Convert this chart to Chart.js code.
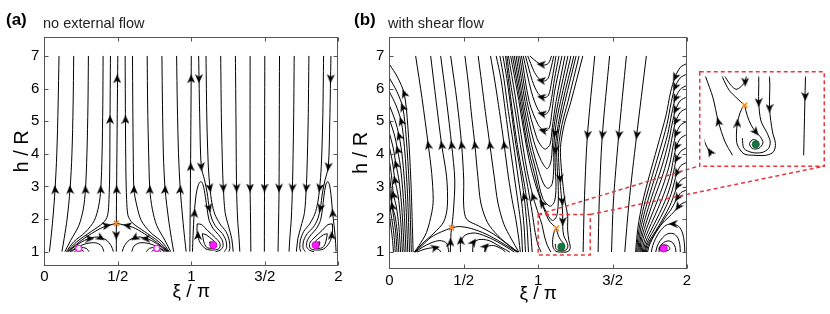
<!DOCTYPE html>
<html>
<head>
<meta charset="utf-8">
<script src="https://cdn.jsdelivr.net/npm/chart.js@4.4.1/dist/chart.umd.min.js"></script>
<style>
  html, body { margin: 0; padding: 0; background: #fff; }
  #wrap { position: relative; width: 830px; height: 314px; overflow: hidden; font-family: "Liberation Sans", Arial, sans-serif; }
  canvas { position: absolute; }
  .lbl { position: absolute; white-space: nowrap; line-height: 1; color: #000; }
  .tag { font-weight: bold; font-size: 17px; }
  .sub { font-size: 14.5px; color: #222; }
</style>
</head>
<body>
<div id="wrap">
  <canvas id="chartA" width="345" height="314" style="left:0;top:0"></canvas>
  <canvas id="chartB" width="485" height="314" style="left:345px;top:0"></canvas>
  <canvas id="chartInset" width="126" height="96" style="left:699px;top:71px"></canvas>
  <div class="lbl tag" style="left:6px;top:11px">(a)</div>
  <div class="lbl sub" style="left:43px;top:16px">no external flow</div>
  <div class="lbl tag" style="left:354px;top:11px">(b)</div>
  <div class="lbl sub" style="left:388px;top:16px">with shear flow</div>
</div>
<script>
// axes
const xTickValues = [0, 0.5, 1, 1.5, 2];
const xTickLabels = ["0", "1/2", "1", "3/2", "2"];
const yTickValues = [1, 2, 3, 4, 5, 6, 7];

// ---- panel (a): no external flow, streamlines as [xi/pi, h/R] ----
const aUpLeft = [
  [[0.035, 1.0], [0.045, 1.4], [0.058, 2.0], [0.073, 2.9], [0.085, 4.0], [0.094, 5.5], [0.1, 7.0]],
  [[0.12, 1.0], [0.135, 1.4], [0.155, 2.0], [0.175, 2.9], [0.188, 4.0], [0.196, 5.5], [0.2, 7.0]],
  [[0.14, 1.0], [0.18, 1.35], [0.235, 1.8], [0.265, 2.3], [0.28, 2.9], [0.29, 4.0], [0.297, 5.5], [0.3, 7.0]],
  [[0.15, 1.0], [0.2, 1.3], [0.28, 1.6], [0.34, 1.95], [0.37, 2.4], [0.384, 2.9], [0.393, 4.0], [0.398, 5.5], [0.4, 7.0]],
  [[0.155, 1.0], [0.22, 1.3], [0.32, 1.62], [0.4, 1.88], [0.43, 2.1], [0.44, 2.6], [0.445, 3.5], [0.447, 5.0], [0.45, 7.0]],
  [[0.16, 1.0], [0.23, 1.27], [0.32, 1.55], [0.4, 1.75], [0.49, 1.87]],
  [[0.49, 1.0], [0.49, 1.87], [0.492, 3.0], [0.496, 5.0], [0.5, 7.0]],
];
const aUpRight = [
  [[0.965, 1.0], [0.955, 1.4], [0.942, 2.0], [0.925, 2.9], [0.913, 4.0], [0.905, 5.5], [0.9, 7.0]],
  [[0.88, 1.0], [0.865, 1.4], [0.845, 2.0], [0.822, 2.9], [0.81, 4.0], [0.804, 5.5], [0.8, 7.0]],
  [[0.86, 1.0], [0.82, 1.35], [0.765, 1.8], [0.735, 2.3], [0.718, 2.9], [0.71, 4.0], [0.703, 5.5], [0.7, 7.0]],
  [[0.85, 1.0], [0.8, 1.3], [0.72, 1.6], [0.66, 1.95], [0.63, 2.4], [0.61, 2.9], [0.605, 4.0], [0.602, 5.5], [0.6, 7.0]],
  [[0.845, 1.0], [0.78, 1.3], [0.68, 1.62], [0.6, 1.88], [0.57, 2.1], [0.56, 2.6], [0.555, 3.5], [0.552, 5.0], [0.55, 7.0]],
  [[0.84, 1.0], [0.77, 1.27], [0.68, 1.55], [0.6, 1.75], [0.49, 1.87]],
];
const aCells = [
  [[0.165, 1.0], [0.22, 1.2], [0.29, 1.38], [0.36, 1.45], [0.42, 1.36], [0.455, 1.18], [0.47, 1.0]],
  [[0.175, 1.0], [0.225, 1.14], [0.29, 1.25], [0.35, 1.27], [0.39, 1.17], [0.405, 1.0]],
  [[0.185, 1.0], [0.21, 1.08], [0.245, 1.13], [0.285, 1.1], [0.305, 1.0]],
  [[0.205, 1.0], [0.22, 1.04], [0.245, 1.06], [0.265, 1.02], [0.27, 1.0]],
  [[0.835, 1.0], [0.78, 1.2], [0.71, 1.38], [0.64, 1.45], [0.58, 1.36], [0.545, 1.18], [0.53, 1.0]],
  [[0.825, 1.0], [0.775, 1.14], [0.71, 1.25], [0.65, 1.27], [0.61, 1.17], [0.595, 1.0]],
  [[0.815, 1.0], [0.79, 1.08], [0.755, 1.13], [0.715, 1.1], [0.695, 1.0]],
  [[0.795, 1.0], [0.78, 1.04], [0.755, 1.06], [0.735, 1.02], [0.73, 1.0]],
];
const aFall = [
  [[0.99, 1.0], [0.992, 2.0], [0.995, 3.6], [0.998, 5.5], [1.0, 7.0]],
  [[1.05, 7.0], [1.058, 5.0], [1.068, 3.6], [1.09, 3.2], [1.108, 2.8], [1.122, 2.33], [1.14, 2.0], [1.17, 1.75], [1.21, 1.56], [1.235, 1.35], [1.24, 1.12], [1.225, 1.0]],
  [[1.1, 7.0], [1.106, 5.0], [1.116, 3.6], [1.127, 2.95], [1.14, 2.5], [1.16, 2.15], [1.195, 1.85], [1.235, 1.62], [1.258, 1.35], [1.262, 1.1], [1.255, 1.0]],
  [[1.2, 7.0], [1.205, 5.0], [1.213, 3.5], [1.218, 2.95], [1.23, 2.2], [1.255, 1.75], [1.275, 1.4], [1.285, 1.0]],
  [[1.3, 7.0], [1.304, 5.0], [1.308, 2.95], [1.315, 2.0], [1.325, 1.4], [1.33, 1.0]],
  [[1.4, 7.0], [1.4, 2.95], [1.403, 2.0], [1.405, 1.0]],
  [[1.5, 7.0], [1.498, 2.95], [1.497, 1.0]],
  [[1.6, 7.0], [1.597, 2.95], [1.594, 2.0], [1.59, 1.0]],
  [[1.7, 7.0], [1.696, 5.0], [1.688, 2.95], [1.68, 2.0], [1.67, 1.4], [1.665, 1.0]],
  [[1.8, 7.0], [1.795, 5.0], [1.787, 3.5], [1.782, 2.95], [1.77, 2.2], [1.745, 1.75], [1.725, 1.4], [1.715, 1.0]],
  [[1.9, 7.0], [1.894, 5.0], [1.884, 3.6], [1.873, 2.95], [1.86, 2.5], [1.84, 2.15], [1.805, 1.85], [1.765, 1.62], [1.742, 1.35], [1.738, 1.1], [1.745, 1.0]],
  [[1.95, 7.0], [1.942, 5.0], [1.932, 3.6], [1.91, 3.2], [1.892, 2.8], [1.878, 2.33], [1.86, 2.0], [1.83, 1.75], [1.79, 1.56], [1.765, 1.35], [1.76, 1.12], [1.775, 1.0]],
];
const aVortex = [
  [[1.008, 1.0], [1.012, 1.5], [1.02, 2.18], [1.033, 2.75], [1.048, 3.05], [1.065, 3.15], [1.08, 3.05], [1.095, 2.7], [1.108, 2.3], [1.122, 1.95], [1.15, 1.7], [1.185, 1.52], [1.212, 1.33], [1.215, 1.15], [1.195, 1.04], [1.165, 1.0]],
  [[1.04, 1.85], [1.07, 1.83], [1.11, 1.65], [1.165, 1.42], [1.195, 1.25], [1.19, 1.1], [1.155, 1.05], [1.1, 1.08], [1.06, 1.28], [1.04, 1.55], [1.04, 1.85]],
  [[1.075, 1.55], [1.1, 1.52], [1.14, 1.38], [1.17, 1.24], [1.165, 1.13], [1.14, 1.1], [1.105, 1.13], [1.085, 1.3], [1.075, 1.55]],
  [[1.125, 1.3], [1.148, 1.28], [1.16, 1.2], [1.15, 1.15], [1.132, 1.17], [1.125, 1.3]],
  [[1.985, 1.0], [1.978, 1.5], [1.962, 2.18], [1.95, 2.75], [1.94, 3.05], [1.928, 3.15], [1.915, 3.05], [1.902, 2.7], [1.892, 2.3], [1.878, 1.95], [1.85, 1.7], [1.815, 1.52], [1.788, 1.33], [1.785, 1.15], [1.805, 1.04], [1.835, 1.0]],
  [[1.96, 1.85], [1.93, 1.83], [1.89, 1.65], [1.835, 1.42], [1.805, 1.25], [1.81, 1.1], [1.845, 1.05], [1.9, 1.08], [1.94, 1.28], [1.96, 1.55], [1.96, 1.85]],
  [[1.925, 1.55], [1.9, 1.52], [1.86, 1.38], [1.83, 1.24], [1.835, 1.13], [1.86, 1.1], [1.895, 1.13], [1.915, 1.3], [1.925, 1.55]],
  [[1.875, 1.3], [1.852, 1.28], [1.84, 1.2], [1.85, 1.15], [1.868, 1.17], [1.875, 1.3]],
];
// arrows: [xi, h, rotation in degrees, 0 = up]
const aArrows = [
  [0.073, 2.9, -4], [0.175, 2.9, -3], [0.28, 2.9, -2], [0.384, 2.9, -1], [0.492, 2.9, 0],
  [0.61, 2.9, 1], [0.718, 2.9, 2], [0.822, 2.9, 3], [0.925, 2.9, 4],
  [0.447, 5.05, 0], [0.552, 5.05, 0], [0.496, 6.3, 0], [0.49, 1.5, 180],
  [0.425, 1.8, 80], [0.565, 1.8, 280],
  [0.31, 1.4, 90], [0.385, 1.42, 120], [0.69, 1.4, 270], [0.615, 1.42, 240],
  [0.996, 3.6, 0], [0.999, 6.3, 0], [1.052, 6.3, 180], [1.068, 3.6, 175],
  [1.022, 2.18, 5], [1.045, 1.5, 0], [1.122, 2.33, 165],
  [1.127, 2.95, 170], [1.218, 2.95, 178], [1.308, 2.95, 179], [1.4, 2.95, 180], [1.498, 2.95, 180],
  [1.597, 2.95, 181], [1.688, 2.95, 183], [1.782, 2.95, 185], [1.873, 2.95, 190],
  [1.948, 6.3, 182], [1.932, 3.6, 186], [1.878, 2.33, 195], [1.962, 2.18, -5], [1.955, 1.5, 0],
];
const aSaddle = [[0.49, 1.87]];
const aOpen = [[0.234, 1.1], [0.765, 1.1]];
const aFilled = [[1.15, 1.2], [1.846, 1.2]];

// ---- panel (b): with shear flow ----
const bLeft = [
  [[0.16, 1], [0.145, 3.18], [0.124, 4.88], [0.1, 5.85], [0.055, 6.35], [0, 6.75]],
  [[0.148, 1], [0.134, 3.0], [0.113, 4.54], [0.09, 5.43], [0.05, 5.92], [0, 6.33]],
  [[0.136, 1], [0.122, 2.8], [0.102, 4.2], [0.08, 5.0], [0.044, 5.5], [0, 5.91]],
  [[0.124, 1], [0.11, 2.6], [0.089, 3.84], [0.066, 4.55], [0.036, 5.07], [0, 5.49]],
  [[0.112, 1], [0.098, 2.4], [0.078, 3.5], [0.056, 4.12], [0.031, 4.64], [0, 5.07]],
  [[0.1, 1], [0.086, 2.21], [0.067, 3.14], [0.045, 3.68], [0.025, 4.21], [0, 4.65]],
  [[0.088, 1], [0.076, 1.99], [0.058, 2.76], [0.038, 3.2], [0.021, 3.76], [0, 4.23]],
  [[0.076, 1], [0.064, 1.79], [0.047, 2.4], [0.028, 2.75], [0.015, 3.33], [0, 3.81]],
  [[0.064, 1], [0.053, 1.63], [0.038, 2.12], [0.02, 2.4], [0.011, 2.94], [0, 3.39]],
  [[0.052, 1], [0.044, 1.55], [0.03, 2.05], [0.015, 2.5], [0, 2.97]],
  [[0.04, 1], [0.033, 1.45], [0.022, 1.85], [0.01, 2.2], [0, 2.55]],
  [[0.028, 1], [0.022, 1.35], [0.013, 1.7], [0, 2.13]],
];
const bColumn = [
  [[0.168, 1.0], [0.2, 1.2], [0.25, 1.6], [0.285, 2.2], [0.295, 2.6], [0.285, 3.4], [0.262, 4.27], [0.22, 5.7], [0.177, 7.0]],
  [[0.172, 1.0], [0.22, 1.25], [0.3, 1.58], [0.365, 1.92], [0.39, 2.4], [0.385, 3.3], [0.352, 4.27], [0.315, 5.6], [0.278, 7.0]],
  [[0.419, 1.74], [0.43, 2.2], [0.44, 3.2], [0.419, 4.27], [0.385, 5.6], [0.345, 7.0]],
  [[0.862, 1.0], [0.79, 1.25], [0.7, 1.55], [0.6, 1.8], [0.52, 2.0], [0.5, 2.4], [0.5, 3.2], [0.486, 4.27], [0.455, 5.6], [0.412, 7.0]],
  [[0.17, 1.0], [0.22, 1.2], [0.28, 1.45], [0.35, 1.62], [0.419, 1.74]],
  [[0.175, 1.0], [0.22, 1.14], [0.28, 1.28], [0.34, 1.35], [0.385, 1.27], [0.4, 1.0]],
  [[0.185, 1.0], [0.24, 1.09], [0.3, 1.13], [0.335, 1.07], [0.345, 1.0]],
  [[0.41, 1.0], [0.412, 1.3], [0.415, 1.6], [0.419, 1.74]],
  [[0.419, 1.74], [0.47, 1.78], [0.55, 1.72], [0.65, 1.55], [0.75, 1.3], [0.858, 1.0]],
  [[0.478, 1.0], [0.48, 1.3], [0.51, 1.52], [0.58, 1.58], [0.68, 1.42], [0.77, 1.2], [0.84, 1.0]],
  [[0.56, 1.0], [0.565, 1.25], [0.6, 1.38], [0.67, 1.35], [0.75, 1.15], [0.81, 1.0]],
  [[0.64, 1.0], [0.65, 1.15], [0.7, 1.2], [0.76, 1.08], [0.78, 1.0]],
];
const bRise = [
  [[0.865, 1.0], [0.8, 1.22], [0.73, 1.5], [0.66, 1.9], [0.615, 2.5], [0.595, 3.3], [0.575, 4.27], [0.55, 5.3], [0.53, 6.2], [0.508, 7.0]],
  [[0.87, 1.0], [0.82, 1.4], [0.77, 1.85], [0.73, 2.5], [0.705, 3.3], [0.676, 4.27], [0.645, 5.3], [0.62, 6.2], [0.597, 7.0]],
  [[0.88, 1.0], [0.87, 1.4], [0.85, 2.0], [0.825, 2.6], [0.8, 3.3], [0.772, 4.27], [0.74, 5.3], [0.71, 6.2], [0.68, 7.0]],
  [[0.895, 1.0], [0.885, 1.8], [0.865, 2.5], [0.84, 3.3], [0.81, 4.27], [0.78, 5.3], [0.75, 6.3], [0.718, 7.0]],
  [[0.915, 1.0], [0.905, 1.8], [0.89, 2.5], [0.865, 3.3], [0.835, 4.27], [0.8, 5.3], [0.77, 6.3], [0.743, 7.0]],
  [[0.935, 1.0], [0.925, 1.8], [0.906, 2.69], [0.88, 3.5], [0.85, 4.3], [0.82, 5.3], [0.79, 6.3], [0.763, 7.0]],
  [[0.96, 1.0], [0.95, 1.6], [0.935, 2.2], [0.91, 3.0], [0.87, 4.0], [0.83, 5.2], [0.8, 6.3], [0.781, 7.0]],
  [[1.02, 1.0], [1.0, 1.2], [0.98, 1.6], [0.96, 2.2], [0.93, 3.0], [0.89, 4.0], [0.85, 5.2], [0.81, 6.3], [0.79, 7.0]],
  [[1.085, 1.0], [1.062, 1.2], [1.042, 1.49], [1.025, 1.85], [1.004, 2.137], [0.966, 2.69], [0.925, 3.5], [0.885, 4.6], [0.845, 5.8], [0.8, 7.0]],
  [[1.122, 1.729], [1.095, 1.85], [1.075, 1.95], [1.055, 2.137], [1.025, 2.49], [0.98, 3.1], [0.94, 3.8], [0.9, 4.8], [0.86, 5.9], [0.815, 7.0]],
];
const bBend = [
  [[0.944, 7.0], [0.99, 6.82], [1.035, 6.72], [1.07, 6.78], [1.09, 7.0]],
  [[0.93, 7.0], [0.97, 6.55], [1.0, 6.33], [1.035, 6.23], [1.065, 6.3], [1.085, 6.6], [1.105, 7.0]],
  [[0.915, 7.0], [0.96, 6.25], [1.0, 5.85], [1.038, 5.72], [1.07, 5.8], [1.09, 6.2], [1.12, 7.0]],
  [[0.9, 7.0], [0.955, 5.9], [1.0, 5.35], [1.04, 5.2], [1.07, 5.3], [1.09, 5.7], [1.11, 6.3], [1.14, 7.0]],
  [[0.888, 7.0], [0.94, 5.6], [1.0, 4.9], [1.045, 4.7], [1.075, 4.8], [1.09, 5.2], [1.11, 5.9], [1.16, 7.0]],
  [[0.876, 7.0], [0.925, 5.6], [0.99, 4.5], [1.025, 4.22], [1.05, 4.15], [1.08, 4.3], [1.095, 4.8], [1.12, 5.6], [1.18, 7.0]],
  [[0.864, 7.0], [0.912, 5.6], [0.97, 4.4], [1.02, 3.8], [1.06, 3.55], [1.085, 3.75], [1.095, 4.2], [1.105, 4.8], [1.135, 5.6], [1.2, 7.0]],
  [[0.852, 7.0], [0.9, 5.6], [0.955, 4.3], [1.01, 3.4], [1.045, 3.02], [1.07, 2.95], [1.095, 3.1], [1.105, 3.6], [1.105, 4.2], [1.12, 4.9], [1.15, 5.6], [1.22, 7.0]],
  [[0.84, 7.0], [0.89, 5.6], [0.94, 4.3], [0.985, 3.5], [1.03, 2.65], [1.08, 2.4], [1.11, 2.55], [1.12, 3.0], [1.115, 3.6], [1.115, 4.2], [1.135, 4.9], [1.165, 5.6], [1.24, 7.0]],
  [[0.828, 7.0], [0.88, 5.6], [0.927, 4.3], [0.975, 3.4], [1.02, 2.6], [1.064, 2.137], [1.096, 1.965], [1.124, 2.09], [1.135, 2.5], [1.135, 3.0], [1.128, 3.6], [1.125, 4.2], [1.145, 4.9], [1.18, 5.6], [1.255, 7.0]],
  [[1.275, 7.0], [1.2, 5.6], [1.16, 4.9], [1.137, 4.2], [1.14, 3.6], [1.15, 3.0], [1.16, 2.5], [1.165, 2.137], [1.165, 1.77], [1.172, 1.5], [1.19, 1.33], [1.2, 1.2], [1.195, 1.1], [1.175, 1.04], [1.145, 1.04], [1.12, 1.1], [1.115, 1.25]],
  [[1.3, 7.0], [1.22, 5.6], [1.175, 4.9], [1.15, 4.2], [1.155, 3.6], [1.168, 3.0], [1.182, 2.5], [1.198, 2.137], [1.198, 1.68], [1.207, 1.34], [1.216, 1.17], [1.21, 1.05], [1.188, 1.0], [1.15, 1.0], [1.12, 1.02], [1.1, 1.15], [1.097, 1.3], [1.1, 1.47], [1.108, 1.62], [1.118, 1.72]],
  [[1.122, 1.729], [1.13, 1.58], [1.142, 1.44], [1.156, 1.34], [1.17, 1.27], [1.178, 1.18], [1.165, 1.1], [1.145, 1.1], [1.137, 1.17], [1.148, 1.23], [1.162, 1.2], [1.156, 1.16]],
];
const bFall = [
  [[1.38, 7.0], [1.33, 4.5], [1.31, 2.5], [1.302, 1.0]],
  [[1.48, 7.0], [1.43, 4.5], [1.41, 2.5], [1.403, 1.0]],
  [[1.593, 7.0], [1.54, 4.5], [1.505, 2.5], [1.493, 1.0]],
  [[1.727, 7.0], [1.66, 4.5], [1.61, 2.5], [1.582, 1.0]],
];
const bRight = [
  [[2.0, 6.77], [1.955, 6.65], [1.92, 6.35], [1.89, 5.9], [1.86, 5.2], [1.8, 4.2], [1.745, 3.3], [1.7, 2.5], [1.672, 1.8], [1.66, 1.3], [1.655, 1.0]],
  [[2.0, 6.45], [1.955, 6.33], [1.92, 6.05], [1.895, 5.6], [1.865, 4.9], [1.81, 4.0], [1.755, 3.15], [1.71, 2.4], [1.68, 1.75], [1.667, 1.3], [1.662, 1.0]],
  [[2.0, 6.1], [1.955, 5.98], [1.922, 5.7], [1.898, 5.25], [1.87, 4.6], [1.82, 3.8], [1.765, 3.0], [1.72, 2.3], [1.688, 1.7], [1.675, 1.3], [1.67, 1.0]],
  [[2.0, 5.75], [1.955, 5.63], [1.923, 5.35], [1.9, 4.92], [1.875, 4.35], [1.83, 3.6], [1.775, 2.85], [1.73, 2.2], [1.697, 1.65], [1.683, 1.3], [1.677, 1.0]],
  [[2.0, 5.4], [1.956, 5.28], [1.925, 5.0], [1.903, 4.58], [1.88, 4.05], [1.84, 3.4], [1.785, 2.7], [1.74, 2.1], [1.706, 1.6], [1.69, 1.3], [1.685, 1.0]],
  [[2.0, 5.0], [1.956, 4.88], [1.927, 4.62], [1.906, 4.22], [1.885, 3.72], [1.848, 3.15], [1.795, 2.5], [1.75, 1.98], [1.715, 1.55], [1.698, 1.28], [1.692, 1.0]],
  [[2.0, 4.6], [1.957, 4.48], [1.929, 4.23], [1.909, 3.85], [1.89, 3.4], [1.855, 2.9], [1.805, 2.33], [1.76, 1.87], [1.725, 1.5], [1.707, 1.25], [1.7, 1.0]],
  [[2.0, 4.2], [1.958, 4.08], [1.93, 3.85], [1.912, 3.5], [1.893, 3.1], [1.862, 2.67], [1.815, 2.18], [1.77, 1.77], [1.735, 1.45], [1.715, 1.22], [1.707, 1.0]],
  [[2.0, 3.75], [1.958, 3.64], [1.932, 3.42], [1.914, 3.12], [1.895, 2.8], [1.865, 2.45], [1.822, 2.05], [1.78, 1.7], [1.745, 1.42], [1.723, 1.2], [1.714, 1.0]],
  [[2.0, 3.3], [1.96, 3.2], [1.935, 3.02], [1.915, 2.78], [1.895, 2.52], [1.867, 2.25], [1.83, 1.95], [1.79, 1.65], [1.755, 1.4], [1.73, 1.2], [1.72, 1.0]],
  [[2.0, 2.9], [1.96, 2.82], [1.935, 2.66], [1.912, 2.46], [1.89, 2.28], [1.86, 2.1], [1.83, 1.88], [1.795, 1.63], [1.76, 1.38], [1.737, 1.18], [1.727, 1.0]],
  [[2.0, 2.55], [1.965, 2.48], [1.94, 2.38], [1.91, 2.22], [1.88, 2.08], [1.85, 1.95], [1.82, 1.8], [1.79, 1.6], [1.765, 1.38], [1.745, 1.18], [1.735, 1.0]],
];
const bArc = [
  [[1.985, 1.0], [1.982, 1.3], [1.97, 1.58], [1.945, 1.78], [1.9, 1.86], [1.86, 1.82], [1.82, 1.65], [1.79, 1.42], [1.77, 1.2], [1.76, 1.0]],
  [[1.955, 1.0], [1.952, 1.22], [1.94, 1.42], [1.915, 1.55], [1.88, 1.57], [1.85, 1.5], [1.82, 1.35], [1.8, 1.18], [1.79, 1.0]],
  [[1.925, 1.0], [1.922, 1.14], [1.905, 1.28], [1.88, 1.34], [1.855, 1.32], [1.83, 1.24], [1.815, 1.12], [1.812, 1.0]],
  [[1.844, 1.03], [1.875, 1.05], [1.885, 1.12], [1.87, 1.2], [1.845, 1.22], [1.82, 1.18], [1.812, 1.1], [1.822, 1.04], [1.844, 1.03]],
];
const bArrows = [
  [0.1, 5.85, 340], [0.09, 5.43, 340], [0.08, 5.0, 342], [0.066, 4.55, 342], [0.056, 4.12, 344],
  [0.045, 3.68, 344], [0.038, 3.2, 346], [0.028, 2.75, 346], [0.02, 2.4, 348],
  [0.262, 4.27, 350], [0.352, 4.27, 350], [0.419, 4.27, 352], [0.486, 4.27, 352],
  [0.575, 4.27, 352], [0.676, 4.27, 352], [0.772, 4.27, 352],
  [0.906, 2.69, 345], [0.966, 2.69, 342], [1.025, 2.49, 325],
  [1.02, 6.74, 275], [1.02, 6.25, 278], [1.022, 5.74, 280], [1.025, 5.23, 282], [1.032, 4.72, 284],
  [1.112, 4.63, 188], [1.116, 4.12, 182], [1.148, 3.25, 174], [1.162, 2.55, 174], [1.165, 1.93, 180],
  [1.332, 4.58, 186], [1.432, 4.58, 186], [1.543, 4.58, 187], [1.663, 4.58, 189],
  [0.31, 1.13, 75], [0.411, 1.3, 0], [0.48, 1.35, 0], [0.566, 1.3, 35], [0.648, 1.17, 45],
  [1.92, 6.35, 205], [1.92, 6.05, 205], [1.922, 5.7, 205], [1.923, 5.35, 206], [1.925, 5.0, 206],
  [1.927, 4.62, 206], [1.929, 4.23, 207], [1.93, 3.85, 208], [1.932, 3.42, 208], [1.935, 3.02, 210],
  [1.935, 2.66, 212], [1.94, 2.38, 215], [1.906, 1.86, 270],
];
const insetArrows = [
  [1.042, 1.49, 345], [1.124, 2.07, 180], [1.1, 1.47, 0], [1.165, 1.77, 180],
  [1.198, 1.685, 180], [1.307, 1.858, 180], [1.156, 1.34, 140], [1.017, 1.05, 330],
];
const bSaddle = [[0.419, 1.74], [1.122, 1.729]];
const bStable = [[1.156, 1.16]];
const bFilled = [[1.844, 1.11]];
const insetX = [1.0, 1.35];
const insetY = [0.91, 2.15];

// ---- drawing ----
Chart.defaults.font.family = '"Liberation Sans", Arial, Helvetica, sans-serif';
Chart.defaults.color = "#000";
const RED = "#e8383d";
const INSET = { left: 699, top: 71, w: 126, h: 96 };
const B_LEFT = 345;

const ARROW = (() => {
  const c = document.createElement("canvas");
  c.width = 8; c.height = 9;
  const g = c.getContext("2d");
  g.fillStyle = "#000";
  g.beginPath();
  g.moveTo(4, 0); g.lineTo(8, 9); g.lineTo(4, 6.5); g.lineTo(0, 9);
  g.closePath(); g.fill();
  return c;
})();

const toXY = (list) => list.map(([x, y]) => ({ x, y }));

function lineSets(groups) {
  return groups.flat().map((pts) => ({
    data: toXY(pts), showLine: true, borderColor: "#000", borderWidth: 1,
    pointRadius: 0, tension: 0.3, order: 3,
  }));
}
function arrowSet(list) {
  return {
    data: toXY(list), showLine: false, pointStyle: ARROW, pointRadius: 4,
    pointRotation: list.map((a) => a[2]), order: 2,
  };
}
const saddleStyle = { pointStyle: "crossRot", pointRadius: 3.6, pointBorderColor: "#ff8a1c", pointBorderWidth: 1.6 };
const filledStyle = { pointStyle: "circle", pointRadius: 3.6, pointBackgroundColor: "#ff1aff", pointBorderColor: "#c000c0", pointBorderWidth: 0.8 };
const openStyle = { pointStyle: "circle", pointRadius: 3, pointBackgroundColor: "#fff", pointBorderColor: "#ff1aff", pointBorderWidth: 1.4 };
const stableStyle = { pointStyle: "circle", pointRadius: 3.6, pointBackgroundColor: "#127a3d", pointBorderColor: "#0d5c2d", pointBorderWidth: 0.8 };
function markSet(list, style) {
  return { data: toXY(list), showLine: false, order: 1, ...style };
}

const framePlugin = {
  id: "frame",
  afterDraw(chart) {
    const { ctx, chartArea: a, scales: { x, y } } = chart;
    const L = Math.round(a.left) + 0.5, R = Math.round(a.right) - 0.5;
    const T = Math.round(a.top) + 0.5, B = Math.round(a.bottom) - 0.5;
    ctx.save();
    ctx.strokeStyle = "#555";
    ctx.lineWidth = 1;
    ctx.strokeRect(L, T, R - L, B - T);
    ctx.beginPath();
    x.ticks.forEach((t) => {
      const px = Math.round(x.getPixelForValue(t.value)) + 0.5;
      ctx.moveTo(px, B); ctx.lineTo(px, B - 4);
      ctx.moveTo(px, T); ctx.lineTo(px, T + 4);
    });
    y.ticks.forEach((t) => {
      const py = Math.round(y.getPixelForValue(t.value)) + 0.5;
      ctx.moveTo(L, py); ctx.lineTo(L + 4, py);
      ctx.moveTo(R, py); ctx.lineTo(R - 4, py);
    });
    ctx.stroke();
    ctx.restore();
  },
};

const zoomBox = {
  id: "zoomBox",
  afterDatasetsDraw(chart) {
    const { ctx, scales: { x, y } } = chart;
    const l = x.getPixelForValue(insetX[0]), r = x.getPixelForValue(insetX[1]);
    const t = y.getPixelForValue(insetY[1]), b = y.getPixelForValue(insetY[0]);
    ctx.save();
    ctx.strokeStyle = RED; ctx.lineWidth = 1.5; ctx.setLineDash([4, 3]);
    ctx.strokeRect(l, t, r - l, b - t);
    ctx.beginPath();
    ctx.moveTo(l, t); ctx.lineTo(INSET.left - B_LEFT, INSET.top + INSET.h - 1);
    ctx.moveTo(r, t); ctx.lineTo(INSET.left + INSET.w - B_LEFT, INSET.top + INSET.h - 1);
    ctx.stroke();
    ctx.restore();
  },
};

const insetBorder = {
  id: "insetBorder",
  afterDraw(chart) {
    const { ctx, width, height } = chart;
    ctx.save();
    ctx.strokeStyle = RED; ctx.lineWidth = 1.5; ctx.setLineDash([4, 3]);
    ctx.strokeRect(0.75, 0.75, width - 1.5, height - 1.5);
    ctx.restore();
  },
};

function panelScales(yMin, yMax, yWidth, xHeight, xPad) {
  return {
    x: {
      type: "linear", min: 0, max: 2,
      afterBuildTicks: (s) => { s.ticks = xTickValues.map((v) => ({ value: v })); },
      afterFit: (s) => { s.height = xHeight; },
      grid: { display: false, drawTicks: false },
      border: { display: false },
      ticks: {
        padding: xPad, autoSkip: false, maxRotation: 0, color: "#000", font: { size: 15 },
        callback: (v) => xTickLabels[xTickValues.indexOf(v)],
      },
      title: { display: true, text: "ξ / π", padding: 0, color: "#000", font: { size: 19, lineHeight: 1 } },
    },
    y: {
      type: "linear", min: yMin, max: yMax,
      afterBuildTicks: (s) => { s.ticks = yTickValues.map((v) => ({ value: v })); },
      afterFit: (s) => { s.width = yWidth; },
      grid: { display: false, drawTicks: false },
      border: { display: false },
      ticks: { padding: 5, color: "#000", font: { size: 15 }, callback: (v) => String(v) },
      title: { display: true, text: "h / R", padding: 0, color: "#000", font: { size: 20, lineHeight: 1 } },
    },
  };
}

const common = {
  responsive: false, animation: false, events: [],
  plugins: { legend: { display: false }, tooltip: { enabled: false } },
};

new Chart(document.getElementById("chartA"), {
  type: "scatter",
  data: {
    datasets: [
      markSet(aSaddle, saddleStyle),
      markSet(aOpen, openStyle),
      markSet(aFilled, filledStyle),
      arrowSet(aArrows),
      ...lineSets([aUpLeft, aUpRight, aCells, aFall, aVortex]),
    ],
  },
  options: {
    ...common,
    layout: { padding: { left: 12, top: 36.7, right: 6.7, bottom: 13 } },
    scales: panelScales(0.56, 7.59, 32.3, 35, 2),
  },
  plugins: [framePlugin],
});

function bDatasets(arrows) {
  return [
    markSet(bSaddle, saddleStyle),
    markSet(bStable, stableStyle),
    markSet(bFilled, filledStyle),
    arrowSet(arrows),
    ...lineSets([bLeft, bColumn, bRise, bBend, bFall, bRight, bArc]),
  ];
}

new Chart(document.getElementById("chartB"), {
  type: "scatter",
  data: { datasets: bDatasets(bArrows) },
  options: {
    ...common,
    layout: { padding: { left: 6, top: 37.3, right: 143, bottom: 10.5 } },
    scales: panelScales(0.49, 7.57, 38.3, 34.8, 3),
  },
  plugins: [framePlugin, zoomBox],
});

new Chart(document.getElementById("chartInset"), {
  type: "scatter",
  data: { datasets: bDatasets(insetArrows) },
  options: {
    ...common,
    layout: { padding: 0 },
    scales: {
      x: { type: "linear", display: false, min: insetX[0], max: insetX[1] },
      y: { type: "linear", display: false, min: insetY[0], max: insetY[1] },
    },
  },
  plugins: [insetBorder],
});
</script>
</body>
</html>
